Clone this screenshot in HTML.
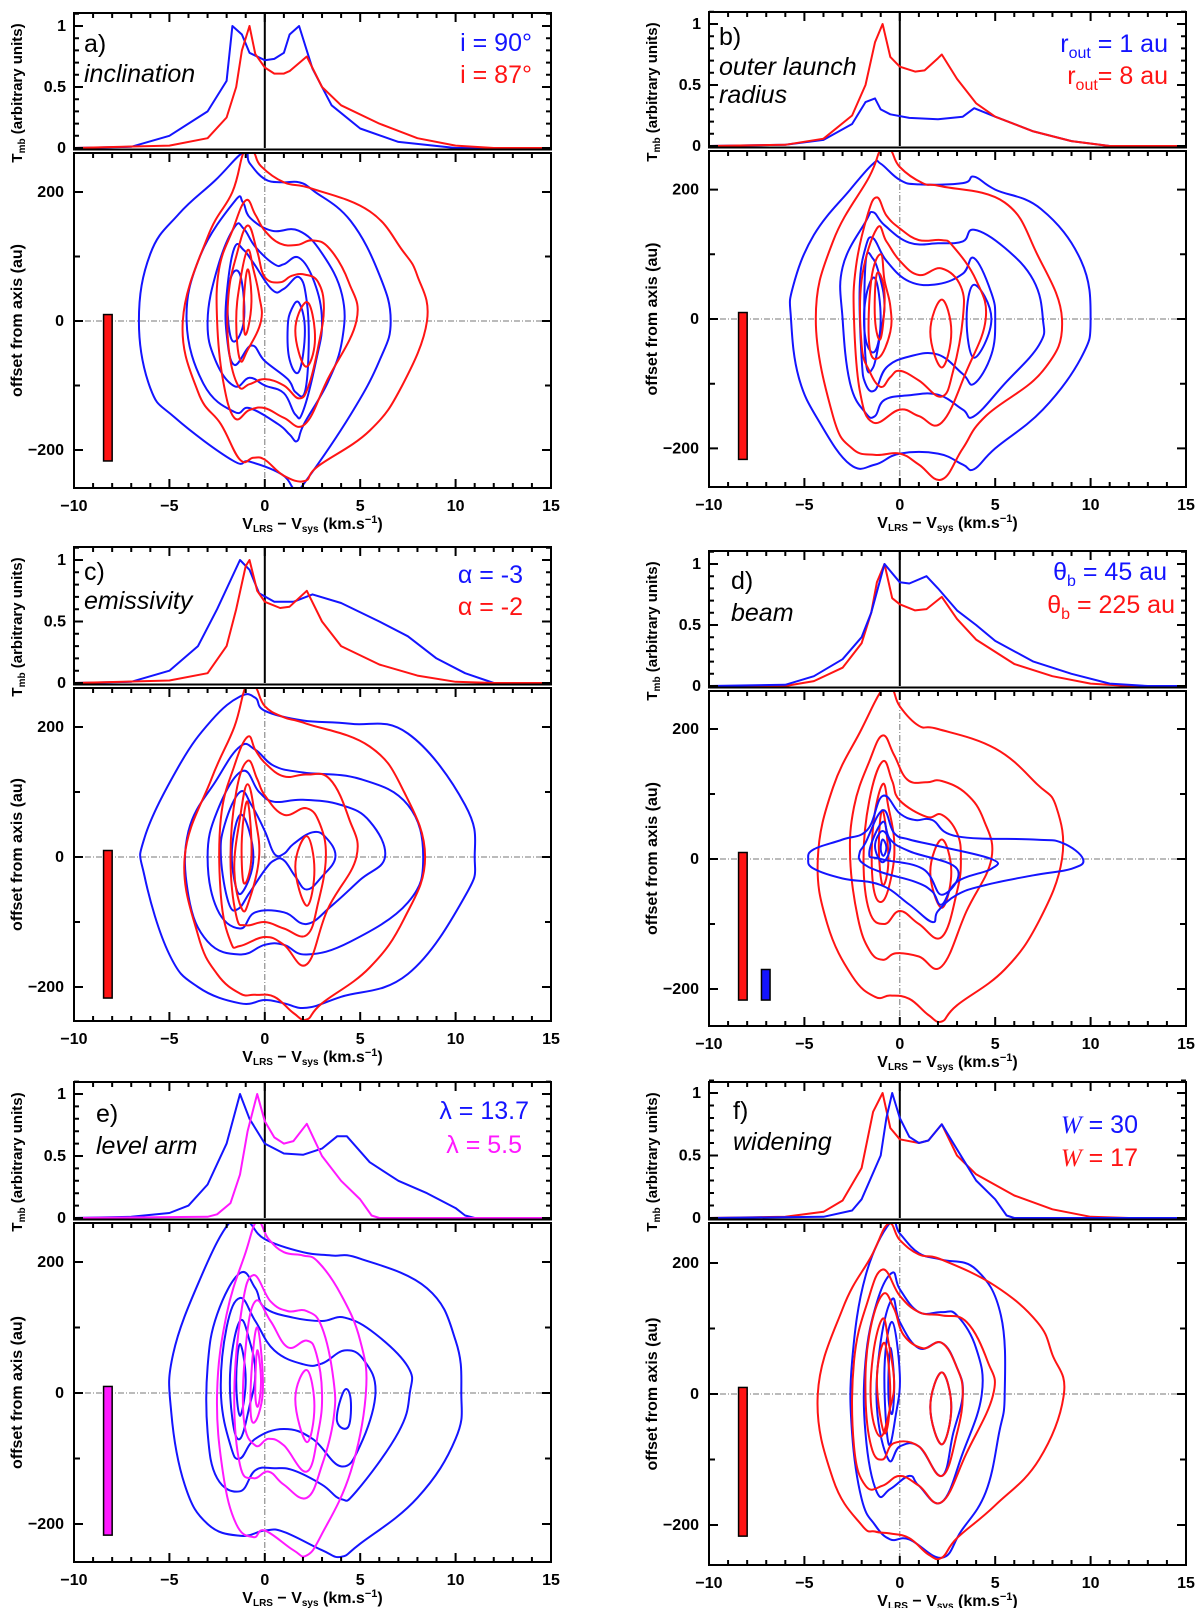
<!DOCTYPE html>
<html><head><meta charset="utf-8">
<style>
html,body{margin:0;padding:0;background:#fff;}
svg{display:block;font-family:"Liberation Sans",sans-serif;}
.lab{font-size:25px;fill:#000;}
.it{font-size:25px;font-style:italic;fill:#000;}
.bl{fill:#1414ff;font-size:25px;}
.rd{fill:#ff1414;font-size:25px;}
.mg{fill:#ff19ff;font-size:25px;}
</style></head>
<body>
<svg id="fig" width="1200" height="1608" viewBox="0 0 1200 1608" xmlns="http://www.w3.org/2000/svg">
<rect width="1200" height="1608" fill="#fff"/>
<g id="marks"></g>
<text class="lab" x="84" y="52">a)</text>
<text class="it" x="84" y="82">inclination</text>
<text class="bl" x="532" y="51" text-anchor="end">i = 90°</text>
<text class="rd" x="532" y="83" text-anchor="end">i = 87°</text>

<text class="lab" x="719" y="45">b)</text>
<text class="it" x="719" y="75">outer launch</text>
<text class="it" x="719" y="103">radius</text>
<text class="bl" x="1168" y="52" text-anchor="end">r<tspan font-size="16" dy="6">out</tspan><tspan dy="-6"> = 1 au</tspan></text>
<text class="rd" x="1168" y="84" text-anchor="end">r<tspan font-size="16" dy="6">out</tspan><tspan dy="-6">= 8 au</tspan></text>

<text class="lab" x="84" y="580">c)</text>
<text class="it" x="84" y="609">emissivity</text>
<text class="bl" x="523" y="583" text-anchor="end">α = -3</text>
<text class="rd" x="523" y="615" text-anchor="end">α = -2</text>

<text class="lab" x="731" y="589">d)</text>
<text class="it" x="731" y="621">beam</text>
<text class="bl" x="1167" y="580" text-anchor="end">θ<tspan font-size="16" dy="6">b</tspan><tspan dy="-6"> = 45 au</tspan></text>
<text class="rd" x="1175" y="613" text-anchor="end">θ<tspan font-size="16" dy="6">b</tspan><tspan dy="-6"> = 225 au</tspan></text>

<text class="lab" x="96" y="1122">e)</text>
<text class="it" x="96" y="1154">level arm</text>
<text class="bl" x="529" y="1119" text-anchor="end">λ = 13.7</text>
<text class="mg" x="522" y="1153" text-anchor="end">λ = 5.5</text>

<text class="lab" x="733" y="1119">f)</text>
<text class="it" x="733" y="1150">widening</text>
<text class="bl" x="1138" y="1133" text-anchor="end"><tspan font-family="Liberation Serif,serif" font-style="italic">W</tspan> = 30</text>
<text class="rd" x="1138" y="1166" text-anchor="end"><tspan font-family="Liberation Serif,serif" font-style="italic">W</tspan> = 17</text>
</svg>
<script>
// ---------- DATA ----------
const xTickLabels = [-10, -5, 0, 5, 10, 15];
const specTickLabels = [0, 0.5, 1];
const mapTickLabels = [-200, 0, 200];

const specA_blue = [[-10,0],[-7,0.01],[-5,0.1],[-3,0.3],[-2,0.55],[-1.7,1.0],[-1.2,0.93],[-0.8,0.78],[0,0.72],[0.5,0.73],[1.0,0.78],[1.3,0.93],[1.8,1.0],[2.5,0.65],[3.5,0.35],[5,0.16],[7,0.05],[10,0],[15,0]];
const specA_red = [[-10,0],[-5,0.02],[-3,0.08],[-2,0.25],[-1.5,0.5],[-1.2,0.8],[-0.8,1.0],[-0.5,0.77],[0,0.66],[0.5,0.61],[1,0.61],[1.3,0.63],[2.2,0.75],[3,0.5],[4,0.35],[6,0.2],[8,0.08],[10,0.02],[12,0],[15,0]];
const specB_blue = [[-10,0],[-6,0.01],[-4,0.05],[-2.5,0.18],[-1.8,0.36],[-1.3,0.39],[-1.0,0.3],[-0.5,0.26],[0.5,0.23],[2,0.22],[3.3,0.24],[3.9,0.31],[5,0.24],[7,0.12],[9,0.04],[11,0],[15,0]];
const specB_red = [[-10,0],[-6,0.01],[-4,0.06],[-2.5,0.25],[-1.8,0.5],[-1.3,0.85],[-0.9,1.0],[-0.5,0.73],[0,0.65],[0.8,0.61],[1.3,0.62],[2,0.72],[2.2,0.75],[3,0.55],[4,0.35],[5,0.24],[7,0.12],[9,0.04],[11,0],[15,0]];
const specC_blue = [[-10,0],[-7,0.01],[-5,0.1],[-3.5,0.3],[-2.5,0.6],[-1.3,1.0],[-0.8,0.92],[-0.3,0.73],[0.5,0.66],[1.5,0.66],[2.5,0.72],[4,0.65],[6,0.5],[7.5,0.38],[9,0.2],[10.5,0.08],[12,0],[15,0]];
const specC_red = [[-10,0],[-5,0.02],[-3,0.08],[-2,0.3],[-1.5,0.6],[-1,0.95],[-0.8,1.0],[-0.4,0.75],[0,0.66],[0.8,0.61],[1.3,0.62],[2.2,0.75],[3,0.5],[4,0.3],[6,0.15],[8,0.06],[10,0.01],[12,0],[15,0]];
const specD_blue = [[-10,0],[-6,0.01],[-4.5,0.08],[-3,0.22],[-2,0.4],[-1.5,0.6],[-0.8,1.0],[0,0.85],[0.5,0.84],[1.4,0.9],[2,0.8],[3,0.62],[4,0.5],[5,0.37],[7,0.2],[9,0.1],[11,0.02],[13,0],[15,0]];
const specD_red = [[-10,0],[-6,0],[-4.5,0.04],[-3,0.15],[-2,0.35],[-1.5,0.6],[-1.2,0.85],[-0.8,1.0],[-0.4,0.72],[0,0.67],[0.8,0.62],[1.4,0.63],[2.2,0.73],[3,0.55],[4,0.38],[6,0.18],[8,0.08],[10,0.02],[12,0],[15,0]];
const specE_blue = [[-10,0],[-7,0.01],[-5,0.04],[-4,0.1],[-3,0.27],[-2,0.6],[-1.3,1.0],[-0.8,0.8],[0,0.6],[1,0.52],[2,0.51],[3,0.56],[3.8,0.66],[4.3,0.66],[5.5,0.45],[7,0.3],[8.5,0.2],[10,0.08],[10.5,0.02],[11,0],[15,0]];
const specE_mag = [[-10,0],[-3,0.01],[-2.5,0.03],[-1.8,0.12],[-1.3,0.35],[-0.9,0.7],[-0.4,1.0],[0,0.78],[0.5,0.65],[1,0.6],[1.5,0.62],[2.2,0.76],[3,0.5],[4,0.3],[5,0.15],[5.6,0.02],[6,0],[15,0]];
const specF_blue = [[-10,0],[-4,0.01],[-2.5,0.06],[-2,0.15],[-1,0.5],[-0.7,0.8],[-0.4,1.0],[0,0.8],[0.5,0.65],[1,0.6],[1.5,0.62],[2.2,0.75],[3,0.55],[4,0.3],[5,0.15],[5.6,0.02],[6,0],[15,0]];
const specF_red = [[-10,0],[-6,0.01],[-4,0.05],[-3,0.14],[-2,0.4],[-1.4,0.85],[-0.9,1.0],[-0.5,0.72],[0,0.63],[1,0.6],[1.5,0.62],[2.2,0.75],[3,0.5],[4,0.35],[6,0.18],[8,0.07],[10,0.01],[12,0],[15,0]];

const contA_blue = [
 [[-1.1,262],[-2.6,218],[-4.5,166],[-6,104],[-6.6,0],[-6,-104],[-4.7,-150],[-1.7,-216],[-0.8,-218],[0.9,-238],[1.6,-262],[2.1,-250],[4.5,-145],[6,-62],[6.6,0],[6,72],[4.5,155],[2.6,201],[1.8,215],[0.9,215],[0,220],[-0.8,245]],
 [[-1.6,185],[-1.15,184],[-0.77,160],[0.36,140],[1.77,140],[3.0,105],[4.05,40],[4.05,-30],[3.3,-95],[2.05,-160],[1.7,-186],[1.3,-176],[0.7,-160],[-0.8,-135],[-1.6,-141],[-3.2,-98],[-4.1,0],[-3.4,100]],
 [[-1.6,145],[-1.1,143],[-0.5,115],[0.5,88],[1.0,88],[1.8,98],[2.6,60],[3.0,0],[2.7,-60],[2.0,-140],[1.6,-145],[1.0,-112],[0,-100],[-0.8,-88],[-1.6,-101],[-2.6,-60],[-3.0,0],[-2.5,80]],
 [[-1.6,113],[-1.1,110],[-0.6,90],[0.4,48],[1.0,50],[1.8,68],[2.2,30],[2.3,-40],[2.1,-110],[1.6,-110],[1.2,-90],[0,-62],[-0.7,-38],[-1.6,-68],[-2.0,-20],[-2.0,40]],
 [[-1.55,78],[-1.2,60],[-1.1,0],[-1.6,-32],[-1.9,-5],[-1.9,50]],
 [[1.8,28],[2.1,-15],[1.8,-78],[1.3,-60],[1.2,-10],[1.4,18]]
];
const contA_red = [
 [[-1.1,262],[-1.7,200],[-3,130],[-4.3,0],[-3.5,-110],[-2.3,-160],[-1.3,-215],[-0.6,-212],[0,-215],[1.0,-240],[2.1,-248],[2.8,-225],[5.5,-170],[7.2,-100],[8.5,0],[8.0,70],[7.2,110],[5.5,170],[2.5,205],[1.0,215],[-0.2,240],[-0.6,262]],
 [[-1.0,187],[-1.7,140],[-2.4,80],[-2.5,0],[-2.2,-90],[-1.6,-150],[-0.8,-138],[0,-135],[1.0,-150],[2.1,-160],[3.3,-90],[4.8,0],[4.4,60],[3.4,112],[2.5,125],[1.7,118],[0.8,120],[0,140],[-0.5,165]],
 [[-0.9,148],[-1.5,100],[-1.9,40],[-1.9,-40],[-1.4,-100],[-0.8,-98],[0,-90],[1.0,-100],[1.8,-120],[2.3,-100],[2.8,-40],[3.1,20],[2.8,60],[2.1,72],[1.4,70],[0.8,60],[0,68],[-0.4,108]],
 [[-0.9,110],[-1.3,60],[-1.5,0],[-1.3,-60],[-0.9,-45],[-0.2,0],[-0.3,40],[-0.6,80]],
 [[-0.9,80],[-1.1,30],[-1.05,-20],[-0.8,0],[-0.7,40]],
 [[2.1,28],[1.6,-15],[2.1,-70],[2.6,-40],[2.5,10]]
];
const contB_blue = [
 [[-1.4,240],[-2.6,200],[-4.5,130],[-5.6,50],[-5.7,0],[-5.3,-90],[-4.2,-160],[-2.6,-225],[-1.3,-225],[0,-208],[2,-208],[3.3,-225],[3.9,-232],[5,-200],[7.5,-140],[9.5,-60],[10,0],[9.5,90],[7.4,170],[5,200],[3.9,220],[3.3,210],[1,208],[0,215],[-1.0,240]],
 [[-1.4,165],[-1.8,150],[-3.0,80],[-3.0,0],[-2.6,-100],[-1.8,-145],[-1.3,-150],[-0.8,-125],[0.5,-118],[2,-117],[3.3,-140],[3.9,-150],[5.5,-100],[7.3,-40],[7.5,0],[7.0,60],[5.5,110],[3.9,138],[3.3,120],[2,117],[0.5,118],[-0.8,145]],
 [[-1.4,125],[-1.8,110],[-2.1,50],[-2.0,-60],[-1.8,-100],[-1.3,-110],[-0.7,-75],[0.5,-58],[2,-55],[3.3,-85],[3.9,-100],[4.8,-55],[5,0],[4.8,40],[3.9,94],[3.3,70],[2,54],[0.5,58],[-0.7,90]],
 [[-1.4,93],[-1.8,85],[-1.8,-60],[-1.4,-75],[-1.0,-20],[-0.8,20],[-1.0,60]],
 [[-1.3,63],[-1.8,30],[-1.8,-30],[-1.3,-50],[-1.0,0]],
 [[3.9,53],[3.5,0],[3.9,-60],[4.8,0]]
];
const contB_red = [
 [[-1.0,262],[-1.6,220],[-3.5,120],[-4.4,0],[-3.5,-150],[-2.5,-200],[-1.3,-210],[0,-208],[1,-225],[2.2,-248],[3.3,-200],[4.5,-150],[7.5,-80],[8.5,0],[7.2,100],[5.5,180],[2.2,205],[1.2,210],[0,235],[-0.5,262]],
 [[-1.2,188],[-1.7,160],[-2.3,80],[-2.4,0],[-2.1,-110],[-1.4,-160],[0,-140],[1,-150],[2.2,-160],[3.5,-80],[4.5,0],[4,60],[2.8,112],[2.2,122],[1,122],[0,140],[-0.7,160]],
 [[-1.2,140],[-2,60],[-2,-40],[-1.6,-80],[-1.0,-105],[-0.5,-90],[0,-80],[1,-95],[2.2,-120],[2.8,-80],[3.3,0],[3.2,50],[2.2,78],[1,68],[0,90],[-0.7,120]],
 [[-1.0,100],[-1.5,60],[-1.6,-40],[-1.1,-60],[-0.5,-20],[-0.5,20],[-0.8,60]],
 [[-1.2,70],[-1.3,0],[-1.0,-30],[-0.8,40]],
 [[2.2,30],[1.6,-20],[2.2,-75],[2.7,-20]]
];
const contC_blue = [
 [[-1.3,247],[-2.8,210],[-4.5,140],[-6.3,30],[-6.3,-30],[-5,-150],[-3.5,-200],[-1.3,-225],[0,-220],[1,-225],[2.2,-232],[4,-215],[7.5,-180],[10.5,-60],[11,0],[10.5,80],[7.5,190],[4.5,205],[2,210],[0,225],[-0.5,245]],
 [[-1.3,170],[-2.5,120],[-4,40],[-4,-60],[-3,-130],[-1.3,-150],[0,-135],[1,-135],[2.2,-150],[4.5,-130],[7.5,-70],[8.3,0],[7.5,80],[5,120],[2,130],[0.5,140],[-0.5,165]],
 [[-1.2,132],[-2.5,70],[-3,0],[-2.5,-80],[-1.3,-110],[-0.5,-85],[1,-85],[2.2,-103],[3.5,-75],[5,-35],[6.3,0],[5.5,55],[4,80],[2,88],[0.5,85],[-0.3,100]],
 [[-1.3,100],[-2.1,50],[-2.3,0],[-1.9,-70],[-1.4,-80],[-0.8,-55],[0,-20],[0.5,-5],[1,-5],[1.6,-30],[2.2,-50],[3,-30],[3.7,0],[3.2,30],[2.5,38],[1.5,20],[1,5],[0.5,5],[0,40],[-0.7,80]],
 [[-1.2,65],[-1.7,20],[-1.6,-35],[-1.2,-55],[-0.6,0]]
];
const contC_red = [
 [[-1.0,262],[-1.6,200],[-2.8,120],[-4.2,0],[-3.5,-120],[-2.5,-180],[-1.3,-210],[-0.5,-212],[0.5,-215],[1.5,-240],[2.2,-250],[3,-225],[5.5,-170],[7.3,-95],[8.4,0],[7.3,100],[5.5,170],[2.2,205],[1,215],[0,232],[-0.5,262]],
 [[-0.9,185],[-1.6,140],[-2.3,60],[-2.3,-60],[-1.8,-130],[-1.3,-137],[0,-123],[1,-135],[2.2,-165],[3.3,-80],[4.8,0],[4.4,60],[3.4,120],[2.2,127],[1,124],[0,145],[-0.5,165]],
 [[-0.9,148],[-1.5,100],[-1.8,0],[-1.5,-90],[-1.0,-105],[0,-100],[1,-110],[2.2,-120],[2.8,-70],[3.2,0],[2.9,50],[2.2,75],[1,65],[0,95],[-0.4,120]],
 [[-0.9,112],[-1.3,60],[-1.6,-20],[-1.2,-80],[-0.8,-65],[-0.3,0],[-0.5,60]],
 [[-0.9,85],[-1.2,30],[-1.1,-40],[-0.7,0]],
 [[2.2,32],[1.6,-15],[2.2,-75],[2.6,-20]]
];
const contD_red = [
 [[-0.9,262],[-2,200],[-3.5,110],[-4.3,0],[-3.8,-100],[-2.5,-180],[-1.3,-212],[-0.5,-210],[0.5,-215],[1.5,-240],[2.2,-250],[3,-225],[5.5,-170],[7.3,-95],[8.5,0],[8.2,80],[7.2,115],[5,170],[2,200],[1,205],[0,235],[-0.4,262]],
 [[-0.9,190],[-1.6,150],[-2.4,80],[-2.6,0],[-2.2,-90],[-1.6,-140],[-0.9,-155],[-0.2,-145],[1,-150],[2.2,-165],[3.5,-80],[4.8,0],[4.4,60],[3.5,100],[2.2,120],[1.4,118],[0.4,122],[-0.3,160]],
 [[-0.9,150],[-1.6,90],[-1.9,0],[-1.6,-80],[-0.8,-100],[0,-80],[1,-100],[2.2,-120],[3,-50],[3.2,0],[3,40],[2.2,68],[1.4,65],[0,90],[-0.4,120]],
 [[-0.9,115],[-1.4,50],[-1.4,-40],[-0.9,-65],[-0.4,-20],[-0.3,30],[-0.6,80]],
 [[-0.9,75],[-1.1,20],[-0.9,-40],[-0.6,0]],
 [[2.2,30],[1.6,-20],[2.2,-75],[2.7,-20]]
];
const contD_blue = [
 [[-4.8,0],[-4.5,15],[-3,30],[-1.7,45],[-0.9,97],[0,70],[0.8,60],[1.7,60],[3,35],[7,30],[8.5,25],[9.6,0],[9,-15],[7,-25],[4.5,-40],[3,-55],[2,-80],[1.7,-97],[0.5,-70],[-1,-40],[-3,-30],[-4.5,-15]],
 [[-2.1,10],[-1.8,25],[-0.9,75],[-0.3,40],[0.5,30],[2,20],[4.8,0],[4.8,-15],[3,-35],[2.2,-70],[1.7,-50],[0.8,-35],[-1,-20],[-2,-5]],
 [[-1.6,10],[-0.9,57],[-0.5,30],[0.5,12],[3.0,-15],[2.2,-55],[1.2,-15],[-1,0]],
 [[-0.9,43],[-1.3,20],[-0.9,-5],[-0.5,20]],
 [[-0.9,30],[-1.0,15],[-0.85,5],[-0.7,18]]
];
const contE_blue = [
 [[-1.8,262],[-3.3,180],[-4.8,60],[-4.9,-30],[-4.2,-140],[-3,-200],[-1.3,-218],[0,-210],[1,-212],[3,-240],[4,-250],[5,-230],[8,-160],[10,-70],[10.3,0],[10,80],[8.5,160],[5,205],[3.5,210],[2,215],[0,235],[-0.9,262]],
 [[-1.3,183],[-2.5,120],[-3,40],[-3,-60],[-2.5,-130],[-1.3,-150],[-0.5,-118],[0.5,-115],[1.5,-118],[3,-140],[4,-162],[4.8,-150],[7,-60],[7.6,0],[7.5,40],[5.8,90],[4.2,115],[3,110],[1.5,115],[0,130],[-0.5,160]],
 [[-1.3,145],[-2,100],[-2.3,0],[-1.8,-80],[-1.3,-100],[-0.5,-70],[1,-55],[2.5,-70],[4,-112],[5,-80],[5.8,0],[5.2,50],[4.2,65],[3,45],[2,44],[0.5,65],[-0.5,110]],
 [[-1.3,110],[-1.8,40],[-1.7,-40],[-1.3,-70],[-0.8,-20],[-0.5,30],[-0.8,80]],
 [[-1.3,75],[-1.5,20],[-1.3,-35],[-1.0,20]],
 [[4.2,5],[3.8,-30],[3.9,-50],[4.4,-50],[4.5,-10]]
];
const contE_mag = [
 [[-0.4,262],[-1.0,215],[-2,120],[-2.5,0],[-2.2,-120],[-1.5,-200],[-0.6,-220],[0,-210],[1.5,-240],[2.2,-248],[3,-215],[4.5,-120],[5.3,0],[5.0,80],[4,150],[2.8,200],[2,210],[1,215],[0.2,235]],
 [[-0.6,180],[-1.2,130],[-1.6,0],[-1.3,-110],[-0.6,-130],[0.2,-120],[1,-140],[2.2,-160],[3,-110],[3.6,-40],[3.6,20],[3,100],[2.2,125],[1.2,125],[0.3,140]],
 [[-0.5,140],[-1.0,70],[-1.1,-40],[-0.5,-80],[0.2,-70],[1,-80],[2.2,-120],[2.8,-60],[3,0],[2.7,60],[2.2,80],[1.2,70],[0.3,110]],
 [[-0.4,100],[-0.7,30],[-0.7,-40],[-0.3,-30],[-0.1,20]],
 [[-0.4,65],[-0.5,0],[-0.35,-20],[-0.2,20]],
 [[2.2,35],[1.6,-10],[2.2,-75],[2.6,-20]]
];
const contF_blue = [
 [[-0.5,262],[-1.8,180],[-2.5,50],[-2.5,-60],[-2,-160],[-1.3,-200],[-0.5,-222],[0.5,-222],[2.2,-250],[3.2,-210],[4.5,-150],[5.2,-60],[5.5,0],[5.3,120],[4,190],[2.2,205],[1,215],[0,245]],
 [[-0.4,185],[-1.2,140],[-1.8,50],[-1.8,-60],[-1.2,-150],[-0.5,-145],[0.5,-125],[1,-140],[2.2,-165],[3.3,-90],[4.3,0],[4,70],[3,120],[2.2,125],[1,125],[0,160]],
 [[-0.4,145],[-1.0,80],[-1.2,-20],[-0.6,-100],[0,-80],[1,-80],[2.2,-125],[2.8,-60],[3.3,0],[3,40],[2.2,78],[1,70],[0,110]],
 [[-0.4,110],[-0.8,40],[-0.6,-75],[-0.2,-30],[0,30]],
 [[-0.5,70],[-0.6,0],[-0.4,-30],[-0.3,20]],
 [[2.2,33],[1.6,-20],[2.2,-77],[2.7,-20]]
];
const contF_red = [
 [[-0.6,260],[-1.5,210],[-3,130],[-4.3,0],[-3.5,-130],[-2,-200],[-1.3,-210],[-0.5,-213],[0.5,-220],[1.5,-245],[2.2,-250],[3,-220],[5,-170],[7.3,-100],[8.6,0],[8,60],[7.2,110],[5,165],[2.2,205],[1,213],[0,235]],
 [[-0.9,190],[-1.7,140],[-2.4,50],[-2.4,-80],[-1.8,-140],[-0.9,-140],[0,-125],[1,-140],[2.2,-165],[3.5,-90],[4.9,0],[4.6,50],[3.5,110],[2.2,120],[1,125],[0,150]],
 [[-0.9,152],[-1.6,90],[-1.8,0],[-1.5,-80],[-0.9,-100],[-0.3,-75],[1,-80],[2.2,-125],[3,-60],[3.3,0],[3,40],[2.2,78],[1.2,70],[0.2,90],[-0.3,130]],
 [[-0.9,115],[-1.4,60],[-1.5,-20],[-1.0,-65],[-0.5,-20],[-0.3,20],[-0.6,80]],
 [[-0.8,78],[-1.2,20],[-0.8,-60],[-0.5,0]],
 [[2.2,33],[1.6,-20],[2.2,-77],[2.7,-20]]
];
const beamRed = [10, -217];
const beamBlue = [-170, -217];

// ---------- LAYOUT ----------
const BLUE = '#1414ff', RED = '#ff1414', MAG = '#ff19ff';
const panels = [
 {id:'a', x0:74, x1:551, top:13, s1:26, s0:148, mt:153, m0:321, k:0.645, bot:488,
  specs:[[specA_blue,BLUE],[specA_red,RED]], conts:[[contA_blue,BLUE],[contA_red,RED]], beams:[[beamRed,RED,0]]},
 {id:'b', x0:709, x1:1186, top:12, s1:24, s0:146, mt:151, m0:319, k:0.647, bot:487,
  specs:[[specB_blue,BLUE],[specB_red,RED]], conts:[[contB_blue,BLUE],[contB_red,RED]], beams:[[beamRed,RED,0]]},
 {id:'c', x0:74, x1:551, top:547, s1:560, s0:683, mt:688, m0:857, k:0.65, bot:1021,
  specs:[[specC_blue,BLUE],[specC_red,RED]], conts:[[contC_blue,BLUE],[contC_red,RED]], beams:[[beamRed,RED,0]]},
 {id:'d', x0:709, x1:1186, top:551, s1:564, s0:686, mt:691, m0:859, k:0.65, bot:1026,
  specs:[[specD_red,RED],[specD_blue,BLUE]], conts:[[contD_red,RED],[contD_blue,BLUE]], beams:[[beamRed,RED,0],[beamBlue,BLUE,1.2]]},
 {id:'e', x0:74, x1:551, top:1082, s1:1094, s0:1218, mt:1223, m0:1393, k:0.655, bot:1562,
  specs:[[specE_blue,BLUE],[specE_mag,MAG]], conts:[[contE_blue,BLUE],[contE_mag,MAG]], beams:[[beamRed,MAG,0]]},
 {id:'f', x0:709, x1:1186, top:1082, s1:1093, s0:1218, mt:1223, m0:1394, k:0.655, bot:1565,
  specs:[[specF_red,RED],[specF_blue,BLUE]], conts:[[contF_blue,BLUE],[contF_red,RED]], beams:[[beamRed,RED,0]]}
];

const NS = 'http://www.w3.org/2000/svg';
const root = document.getElementById('marks');
function mk(tag, attrs, parent){
  const e = document.createElementNS(NS, tag);
  for (const k in attrs) e.setAttribute(k, attrs[k]);
  (parent||root).appendChild(e);
  return e;
}
function sx(P,v){ return P.x0 + (v+10)*(P.x1-P.x0)/25; }
function syS(P,t){ return P.s0 - (P.s0-P.s1)*t; }
function syM(P,o){ return P.m0 - o*P.k; }

function smoothClosed(pts){
  const n = pts.length; let d = 'M'+pts[0][0].toFixed(1)+','+pts[0][1].toFixed(1);
  for (let i=0;i<n;i++){
    const p0=pts[(i-1+n)%n], p1=pts[i], p2=pts[(i+1)%n], p3=pts[(i+2)%n];
    const t=0.2;
    const c1=[p1[0]+(p2[0]-p0[0])*t, p1[1]+(p2[1]-p0[1])*t];
    const c2=[p2[0]-(p3[0]-p1[0])*t, p2[1]-(p3[1]-p1[1])*t];
    d+=' C'+c1[0].toFixed(1)+','+c1[1].toFixed(1)+' '+c2[0].toFixed(1)+','+c2[1].toFixed(1)+' '+p2[0].toFixed(1)+','+p2[1].toFixed(1);
  }
  return d+'Z';
}

panels.forEach(P => {
  const g = mk('g', {});
  
  
  const defs = mk('defs', {}, g);
  const cp = mk('clipPath', {id:'clipM'+P.id}, defs);
  mk('rect', {x:P.x0, y:P.mt, width:P.x1-P.x0, height:P.bot-P.mt}, cp);
  const cp2 = mk('clipPath', {id:'clipS'+P.id}, defs);
  mk('rect', {x:P.x0, y:P.top, width:P.x1-P.x0, height:P.s0+2-P.top}, cp2);

  const zl = mk('line', {x1:sx(P,0), x2:sx(P,0), y1:P.top, y2:P.s0, stroke:'#000', 'stroke-width':2}, g);
  
  
  const vz = mk('line', {x1:sx(P,0), x2:sx(P,0), y1:P.mt, y2:P.bot, stroke:'#777', 'stroke-width':1, 'stroke-dasharray':'6,2,1,2'}, g);
  
  
  const hz = mk('line', {x1:P.x0, x2:P.x1, y1:syM(P,0), y2:syM(P,0), stroke:'#777', 'stroke-width':1, 'stroke-dasharray':'6,2,1,2'}, g);
  
  

  P.specs.forEach(([data,col]) => {
    const d = data.map((p,i)=>(i?'L':'M')+sx(P,p[0]).toFixed(1)+','+syS(P,p[1]).toFixed(1)).join(' ');
    const pe = mk('path', {d:d, fill:'none', stroke:col, 'stroke-width':2, 'stroke-linejoin':'round', 'clip-path':'url(#clipS'+P.id+')'}, g);
    
    
  });
  P.conts.forEach(([set,col]) => {
    set.forEach(c => {
      const pts = c.map(p=>[sx(P,p[0]), syM(P,p[1])]);
      const pe = mk('path', {d:smoothClosed(pts), fill:'none', stroke:col, 'stroke-width':2, 'stroke-linejoin':'round', 'clip-path':'url(#clipM'+P.id+')'}, g);
      
      
    });
  });
  P.beams.forEach(([b,col,dv]) => {
    const xa = sx(P,-8.45+dv), xb = sx(P,-8.0+dv);
    const r = mk('rect', {x:xa, y:syM(P,b[0]), width:xb-xa, height:syM(P,b[1])-syM(P,b[0]), fill:col, stroke:'#000', 'stroke-width':1.5}, g);
    
    
  });

  const f1 = mk('rect', {x:P.x0, y:P.top, width:P.x1-P.x0, height:P.s0+1.5-P.top, fill:'none', stroke:'#000', 'stroke-width':2}, g);
  
  
  const f2 = mk('rect', {x:P.x0, y:P.mt, width:P.x1-P.x0, height:P.bot-P.mt, fill:'none', stroke:'#000', 'stroke-width':2}, g);
  
  
  mk('line', {x1:P.x0, x2:P.x1, y1:P.s0+1.5, y2:P.s0+1.5, stroke:'#000','stroke-width':1.5}, g);

  let td = '';
  for (let v=-10; v<=15; v++){
    const x = sx(P,v), L = (v%5===0)?9:5;
    td += `M${x},${P.top}v${L} M${x},${P.mt}v${L} M${x},${P.bot}v${-L} `;
  }
  for (let i=0;i<=11;i++){
    const t=i/10, y=syS(P,t), L=(i%5===0)?9:5;
    td += `M${P.x0},${y}h${L} M${P.x1},${y}h${-L} `;
  }
  for (let o=-200;o<=200;o+=100){
    const y=syM(P,o), L=(o%200===0)?9:6;
    td += `M${P.x0},${y}h${L} M${P.x1},${y}h${-L} `;
  }
  const tk = mk('path', {d:td, stroke:'#000', 'stroke-width':2, fill:'none'}, g);
  
  

  xTickLabels.forEach(v => {
    const t = mk('text', {x:sx(P,v), y:P.bot+23, 'text-anchor':'middle', 'font-size':16, 'font-weight':'bold'}, g);
    t.textContent = v<0 ? '\u2212'+(-v) : String(v);
    
    
  });
  specTickLabels.forEach(v => {
    const t = mk('text', {x:P.x0-8, y:syS(P,v)+5, 'text-anchor':'end', 'font-size':16, 'font-weight':'bold'}, g);
    t.textContent = String(v);
    
    
  });
  mapTickLabels.forEach(v => {
    const t = mk('text', {x:P.x0-10, y:syM(P,v)+5, 'text-anchor':'end', 'font-size':16, 'font-weight':'bold'}, g);
    t.textContent = v<0 ? '\u2212'+(-v) : String(v);
    
    
  });

  const cx = (P.x0+P.x1)/2;
  const xt = mk('text', {x:cx, y:P.bot+41, 'text-anchor':'middle', 'font-size':16, 'font-weight':'bold'}, g);
  xt.innerHTML = 'V<tspan font-size="10" dy="3">LRS</tspan><tspan dy="-3"> \u2212 V</tspan><tspan font-size="10" dy="3">sys</tspan><tspan dy="-3"> (km.s</tspan><tspan font-size="11" dy="-6">\u22121</tspan><tspan dy="6">)</tspan>';
  
  
  const yx = P.x0-52, yy = (P.mt+P.bot)/2;
  const yt = mk('text', {x:yx, y:yy, 'text-anchor':'middle', 'font-size':16, 'font-weight':'bold', transform:`rotate(-90 ${yx} ${yy})`}, g);
  yt.textContent = 'offset from axis (au)';
  
  
  const sxp = P.x0-52, syp = P.top+80;
  const st = mk('text', {x:sxp, y:syp, 'text-anchor':'middle', 'font-size':15, 'font-weight':'bold', transform:`rotate(-90 ${sxp} ${syp})`}, g);
  st.innerHTML = 'T<tspan font-size="10" dy="3">mb</tspan><tspan dy="-3">  (arbitrary units)</tspan>';
  
  
});
</script>
</body></html>
